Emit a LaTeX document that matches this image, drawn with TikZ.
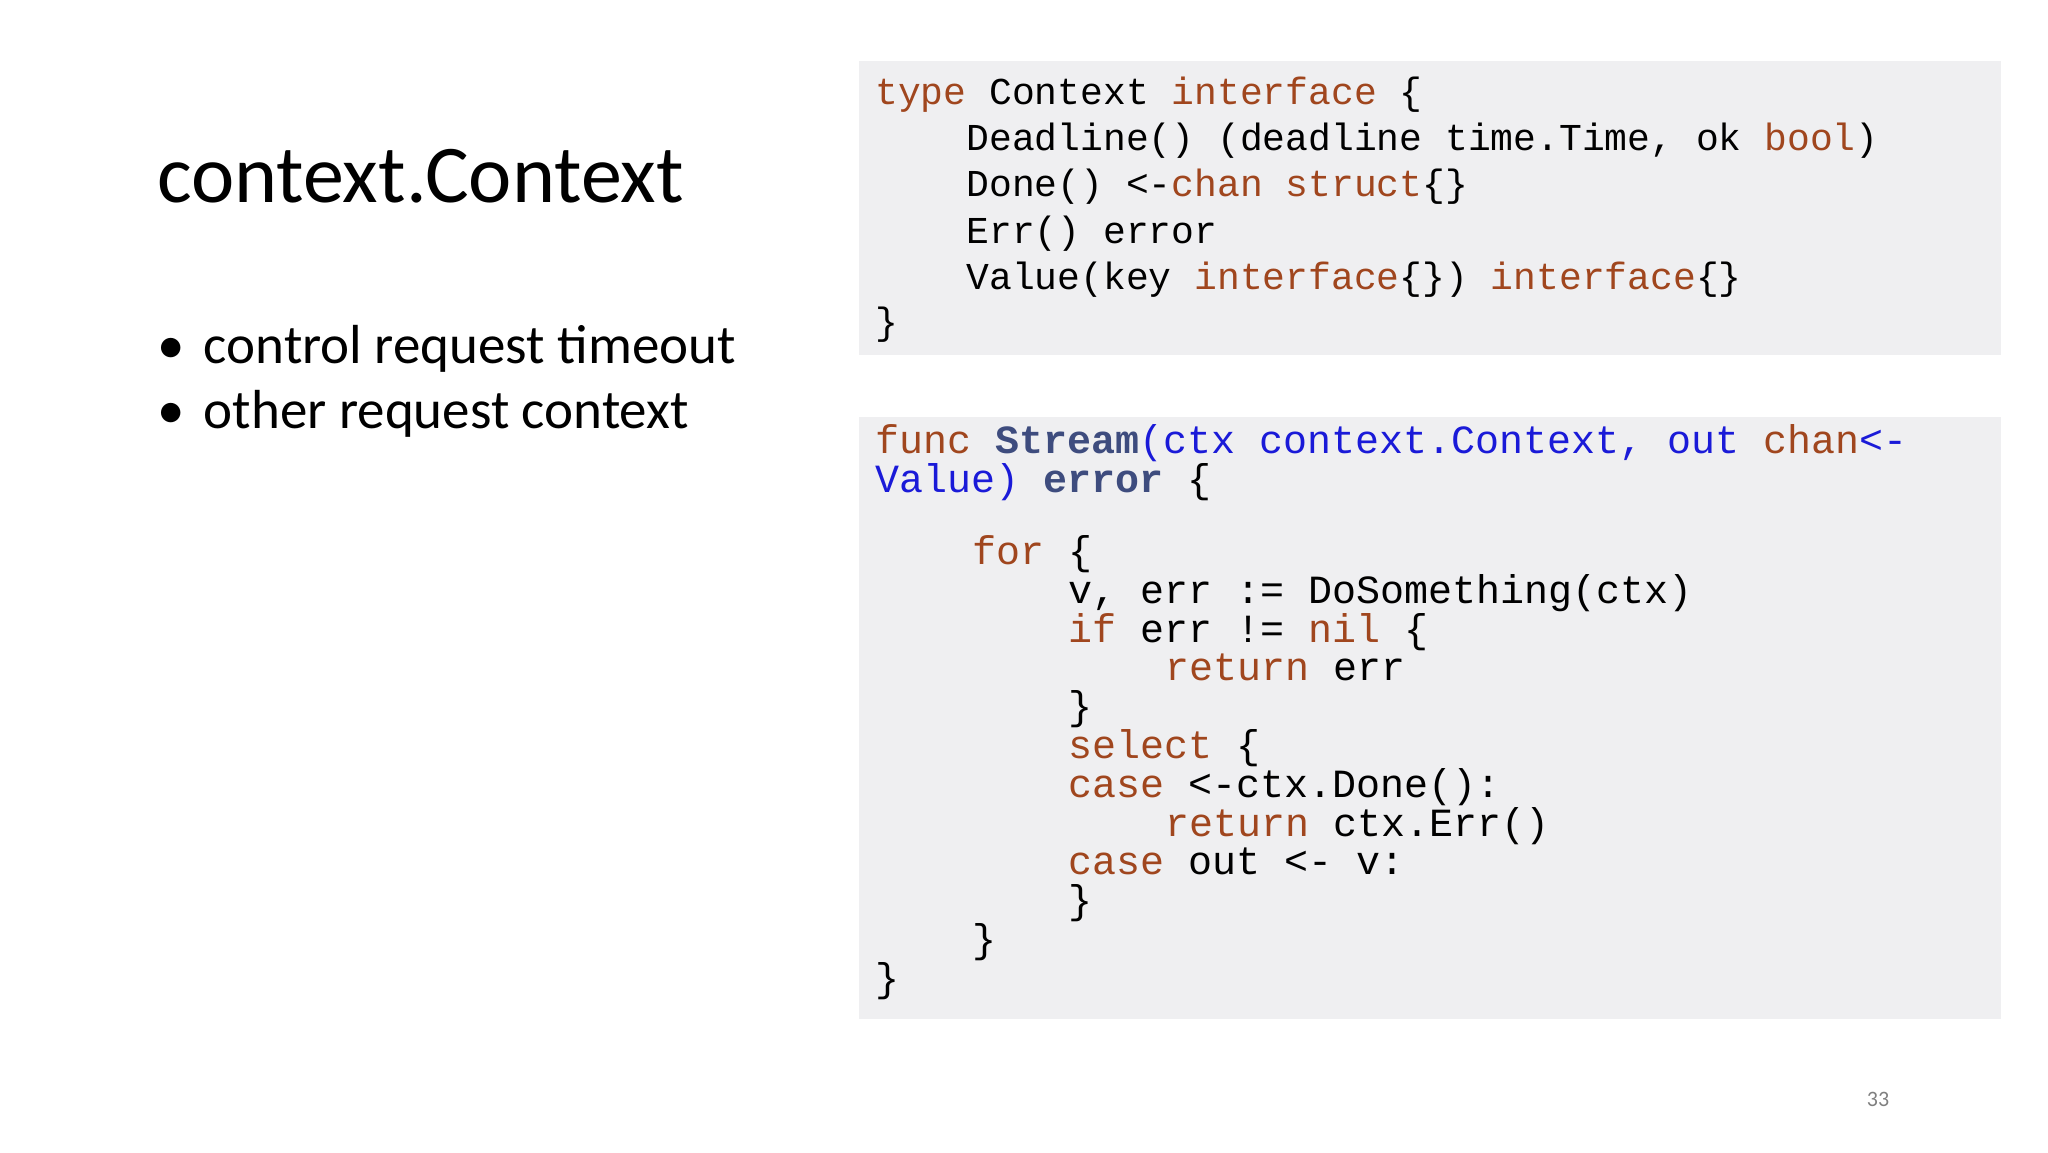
\documentclass[tikz,border=0pt]{standalone}
\usepackage{fontspec}
\setmainfont{Carlito}
\setmonofont{Liberation Mono}
\definecolor{kwc}{HTML}{A0461E}
\definecolor{blc}{HTML}{1A1AD8}
\definecolor{bbc}{HTML}{3E4C7E}
\definecolor{boxc}{HTML}{EFEFF1}
\newcommand{\kw}[1]{\textcolor{kwc}{#1}}
\newcommand{\bl}[1]{\textcolor{blc}{#1}}
\newcommand{\bb}[1]{\textcolor{bbc}{\bfseries #1}}
\begin{document}
\begin{tikzpicture}[x=1pt,y=-1pt,
  ln/.style={anchor=base west,inner sep=0pt,font=\ttfamily\fontsize{38}{46}\selectfont},
  ln2/.style={anchor=base west,inner sep=0pt,font=\ttfamily\fontsize{40}{46}\selectfont}]
\useasboundingbox (0,0) rectangle (2048,1152);
\fill[white] (0,0) rectangle (2048,1152);
\fill[boxc] (859,61) rectangle (2001,355);
\fill[boxc] (859,417) rectangle (2001,1019);
\node[anchor=base west,inner sep=0pt,font=\fontsize{82}{90}\selectfont] (title) at (157,202) {context.Context};
\node[anchor=base west,inner sep=0pt,font=\fontsize{55}{60}\selectfont] (b1) at (157,363) {\textbullet\hspace{0.35em}control request timeout};
\node[anchor=base west,inner sep=0pt,font=\fontsize{55}{60}\selectfont] (b2) at (157,428) {\textbullet\hspace{0.35em}other request context};
% box 1
\def\cw{22.8}
\node[ln] (a1) at (875,104) {\kw{type} Context \kw{interface} \{};
\node[ln] (a2) at (875+4*\cw,150) {Deadline() (deadline time.Time, ok \kw{bool})};
\node[ln] (a3) at (875+4*\cw,196) {Done() <-\kw{chan} \kw{struct}\{\}};
\node[ln] (a4) at (875+4*\cw,243) {Err() error};
\node[ln] (a5) at (875+4*\cw,289) {Value(key \kw{interface}\{\}) \kw{interface}\{\}};
\node[ln] (a6) at (875,334) {\}};
% box 2
\def\cv{24.2}
\node[ln2] (c1) at (875,453) {\kw{func} \bb{Stream}\bl{(ctx context.Context, out} \kw{chan}\bl{<-}};
\node[ln2] (c2) at (875,492) {\bl{Value)} \bb{error} \{};
\node[ln2] (c3) at (875+4*\cv,564) {\kw{for} \{};
\node[ln2] (c4) at (875+8*\cv,603) {v, err := DoSomething(ctx)};
\node[ln2] (c5) at (875+8*\cv,642) {\kw{if} err != \kw{nil} \{};
\node[ln2] (c6) at (875+12*\cv,680) {\kw{return} err};
\node[ln2] (c7) at (875+8*\cv,719) {\}};
\node[ln2] (c8) at (875+8*\cv,758) {\kw{select} \{};
\node[ln2] (c9) at (875+8*\cv,797) {\kw{case} <-ctx.Done():};
\node[ln2] (c10) at (875+12*\cv,836) {\kw{return} ctx.Err()};
\node[ln2] (c11) at (875+8*\cv,874) {\kw{case} out <- v:};
\node[ln2] (c12) at (875+8*\cv,913) {\}};
\node[ln2] (c13) at (875+4*\cv,952) {\}};
\node[ln2] (c14) at (875,991) {\}};
\node[anchor=base,inner sep=0pt,font=\fontsize{22}{24}\selectfont,text=gray] (pg) at (1878,1106) {33};
\end{tikzpicture}
\end{document}
